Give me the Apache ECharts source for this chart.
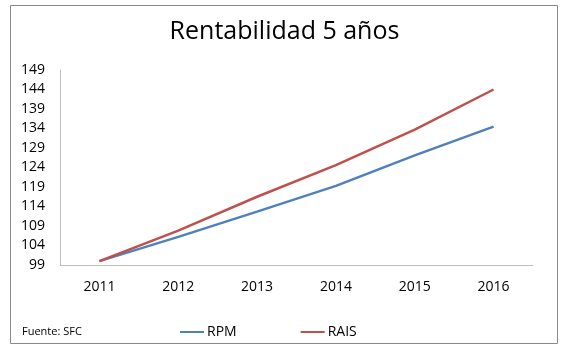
<!DOCTYPE html>
<html>
<head>
<meta charset="utf-8">
<script src="https://cdn.jsdelivr.net/npm/echarts@6/dist/echarts.min.js"></script>
<style>
html,body{margin:0;padding:0;background:#fff;}
#chart{width:569px;height:355px;}
</style>
</head>
<body>
<div id="chart"></div>
<script>
const titleText = "Rentabilidad 5 años";
const sourceText = "Fuente: SFC";
const years = ["2011","2012","2013","2014","2015","2016"];
const rpm = [100, 106.2, 112.7, 119.3, 127.1, 134.5];
const rais = [100, 107.8, 116.5, 124.6, 133.7, 144.0];
const yMin = 99, yMax = 149, yStep = 5;

const chart = echarts.init(document.getElementById('chart'), null, {renderer:'canvas'});
const font = "'Open Sans', 'Noto Sans', sans-serif";
chart.setOption({
  animation:false,
  backgroundColor:'#ffffff',
  title:{
    text:titleText, left:'center', top:14,
    textStyle:{fontFamily:font, fontSize:25, fontWeight:'normal', color:'#000'}
  },
  legend:{
    data:['RPM','RAIS'], left:175, top:320, itemWidth:24, itemHeight:2, itemGap:64,
    icon:'rect',
    textStyle:{fontFamily:font, fontSize:14, color:'#000', padding:[0,0,0,-2]}
  },
  graphic:[
    {type:'rect', shape:{x:10.5,y:5.5,width:547,height:338}, style:{fill:'none', stroke:'#898989', lineWidth:1}, silent:true},
    {type:'text', left:22, top:326, style:{text:sourceText, font:"11px 'Open Sans', sans-serif", fill:'#000'}}
  ],
  grid:{left:60, right:36, top:70, bottom:90},
  xAxis:{
    type:'category', data:years, boundaryGap:true,
    axisLine:{lineStyle:{color:'#bfbfbf', width:1}},
    axisTick:{show:false},
    axisLabel:{fontFamily:font, fontSize:14, color:'#000', margin:15}
  },
  yAxis:{
    type:'value', min:yMin, max:yMax, interval:yStep,
    axisLine:{show:true, lineStyle:{color:'#bfbfbf', width:1}},
    axisTick:{show:false},
    splitLine:{show:false},
    axisLabel:{fontFamily:font, fontSize:14, color:'#000', margin:15}
  },
  series:[
    {name:'RPM', type:'line', data:rpm, symbol:'none', smooth:false, lineStyle:{color:'#4F81BD', width:2.5}, itemStyle:{color:'#4F81BD'}},
    {name:'RAIS', type:'line', data:rais, symbol:'none', smooth:false, lineStyle:{color:'#C0504D', width:2.5}, itemStyle:{color:'#C0504D'}}
  ]
});
</script>
</body>
</html>
